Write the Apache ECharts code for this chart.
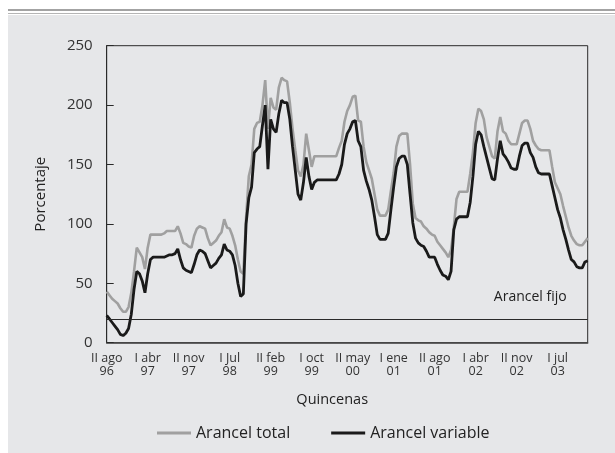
<!DOCTYPE html>
<html>
<head>
<meta charset="utf-8">
<script src="https://cdn.jsdelivr.net/npm/echarts@6/dist/echarts.min.js"></script>
<style>
  html, body { margin: 0; padding: 0; background: #ffffff; }
  #wrap { position: relative; width: 615px; height: 453px; overflow: hidden; background: #ffffff; }
  #line1 { position: absolute; left: 8px; top: 9px; width: 607px; height: 2px; background: #a3a3a3; }
  #line2 { position: absolute; left: 8px; top: 13px; width: 607px; height: 1px; background: #b5b5b5; }
  #panel { position: absolute; left: 8px; top: 15px; width: 607px; height: 438px; background: #e6e7e9; }
  #chart { position: absolute; left: 0; top: 0; width: 615px; height: 453px; }
</style>
</head>
<body>
<div id="wrap">
  <div id="line1"></div>
  <div id="line2"></div>
  <div id="panel"></div>
  <div id="chart"></div>
</div>
<script>
// Quincenas (half-months) from II ago 1996 onwards
var monthNames = ['ene','feb','mar','abr','may','jun','jul','ago','sep','oct','nov','dic'];
var startYear = 1996, startMonth = 7, startHalf = 1; // II ago 96
var pointCount = 177;

// Tick labels shown every 15 quincenas
var tickLabels = ['II ago\n96','I abr\n97','II nov\n97','I Jul\n98','II feb\n99','I oct\n99',
                  'II may\n00','I ene\n01','II ago\n01','I abr\n02','II nov\n02','I jul\n03'];
var tickEvery = 15;

// Arancel total (gray)
var arancelTotal = [
  43, 40, 37, 35, 33, 29, 26, 26, 30, 42,
  60, 80, 76, 72, 62, 80, 91, 91, 91, 91,
  91, 92, 94, 94, 94, 94, 98, 92, 84, 83,
  81, 80, 90, 96, 98, 97, 96, 88, 82, 84,
  86, 90, 93, 104, 97,
  96, 90, 82, 70, 60,
  58, 105, 140, 150, 180, 185, 186, 200, 221, 180,
  206, 198, 196, 215, 223, 221, 220, 202, 180, 162,
  145, 140, 150, 176, 162, 148, 157, 157, 157, 157,
  157, 157, 157, 157, 157, 164, 170, 186, 195,
  200, 207, 208, 187, 186, 165, 152, 145, 138, 125, 112,
  107, 107, 107, 112, 128, 143, 165, 174, 176, 176,
  176, 150, 117, 105, 103, 102, 98, 96, 93, 91,
  90, 85, 82, 79, 76, 72, 78, 97, 121, 127,
  127, 127, 127,
  142, 160, 185, 197, 195, 188, 173,
  165, 157, 155, 178, 190, 178, 176, 170, 167, 167,
  167, 176, 185, 187, 187, 180, 170, 166, 163, 162,
  162, 162, 162, 148, 135, 130, 125, 115, 106, 97,
  90, 86, 83, 82, 82, 85, 88
];

// Arancel variable (black)
var arancelVariable = [
  23, 20, 17, 14, 11, 7, 6, 8, 12, 24,
  45, 60, 58, 52, 42, 58, 70, 72, 72, 72,
  72, 72, 73, 74, 74, 75, 79, 70, 63, 61,
  60, 59, 66, 74, 78, 77, 75, 69, 63, 65,
  67, 71, 74, 83, 78,
  77, 74, 65, 50, 39,
  41, 100, 122, 131, 160, 163, 165, 183, 200, 146,
  188, 180, 177, 193, 204, 202, 202, 188, 165, 145,
  125, 120, 135, 156, 140, 129, 135, 137, 137, 137,
  137, 137, 137, 137, 137, 142, 150, 167, 176,
  180, 186, 187, 170, 165, 145, 136, 129, 120, 106, 91,
  87, 87, 87, 92, 112, 131, 148, 155, 157, 157,
  150, 125, 101, 88, 84, 82, 81, 77, 72, 72,
  72, 66, 61, 57, 56, 53, 60, 95, 104, 106,
  106, 106, 106,
  118, 140, 167, 178, 175, 165, 156,
  147, 138, 137, 155, 170, 159, 156, 152, 147, 146,
  146, 157, 166, 168, 168, 160, 156, 148, 143, 142,
  142, 142, 142, 132, 122, 112, 105, 95, 87, 78,
  70, 68, 64, 63, 63, 68, 69
];

// Arancel fijo
var arancelFijo = 20;

var yTicks = [0, 50, 100, 150, 200, 250];

// Build category names
var categories = [];
(function () {
  var y = startYear, m = startMonth, h = startHalf;
  for (var k = 0; k < pointCount; k++) {
    categories.push((h === 0 ? 'I ' : 'II ') + monthNames[m] + ' ' + String(y).slice(2));
    h++;
    if (h > 1) { h = 0; m++; if (m > 11) { m = 0; y++; } }
  }
})();

var FONT = '"Open Sans", "DejaVu Sans", sans-serif';
var chart = echarts.init(document.getElementById('chart'), null, { renderer: 'canvas' });

chart.setOption({
  backgroundColor: 'transparent',
  animation: false,
  textStyle: { fontFamily: FONT },
  grid: {
    left: 106.7, right: 27.3, top: 45.7, bottom: 110.3,
    show: true, borderColor: '#2a2a2a', borderWidth: 1, backgroundColor: 'transparent'
  },
  legend: {
    left: 152, top: 420,
    icon: 'rect',
    itemWidth: 34, itemHeight: 3, itemGap: 41,
    textStyle: { fontFamily: FONT, fontSize: 16, color: '#222' },
    data: ['Arancel total', 'Arancel variable']
  },
  xAxis: {
    type: 'category',
    data: categories,
    boundaryGap: false,
    name: 'Quincenas',
    nameLocation: 'middle',
    nameGap: 50,
    nameTextStyle: { fontFamily: FONT, fontSize: 14.5, color: '#222', padding: [0, 30, 0, 0] },
    axisLine: { show: true, lineStyle: { color: '#444', width: 1.5 } },
    axisTick: { show: false },
    splitLine: { show: false },
    axisLabel: {
      interval: tickEvery - 1,
      margin: 9,
      fontFamily: FONT, fontSize: 12.5, color: '#333', lineHeight: 13,
      formatter: function (v, idx) {
        var t = tickLabels[Math.round(idx / tickEvery)];
        return t === undefined ? '' : t;
      }
    }
  },
  yAxis: {
    type: 'value',
    min: yTicks[0], max: yTicks[yTicks.length - 1], interval: 50,
    name: 'Porcentaje',
    nameLocation: 'middle',
    nameGap: 58,
    nameTextStyle: { fontFamily: FONT, fontSize: 15, color: '#222' },
    axisLine: { show: true, lineStyle: { color: '#2a2a2a', width: 1 } },
    axisTick: { show: true, inside: true, length: 7, lineStyle: { color: '#2a2a2a' } },
    splitLine: { show: false },
    axisLabel: { margin: 14, fontFamily: FONT, fontSize: 15, color: '#333' }
  },
  series: [
    {
      name: 'Arancel total',
      type: 'line',
      data: arancelTotal,
      symbol: 'none',
      z: 2,
      lineStyle: { color: '#a0a0a0', width: 2.6 },
      itemStyle: { color: '#a0a0a0' },
      markLine: {
        silent: true,
        symbol: 'none',
        animation: false,
        lineStyle: { color: '#2a2a2a', width: 1, type: 'solid' },
        label: {
          show: true,
          position: 'insideEndTop',
          distance: [21, 15],
          formatter: 'Arancel fijo',
          fontFamily: FONT, fontSize: 14, color: '#222'
        },
        data: [{ yAxis: arancelFijo }]
      }
    },
    {
      name: 'Arancel variable',
      type: 'line',
      data: arancelVariable,
      symbol: 'none',
      z: 3,
      lineStyle: { color: '#1a1a1a', width: 2.8 },
      itemStyle: { color: '#1a1a1a' }
    }
  ]
});
</script>
</body>
</html>
